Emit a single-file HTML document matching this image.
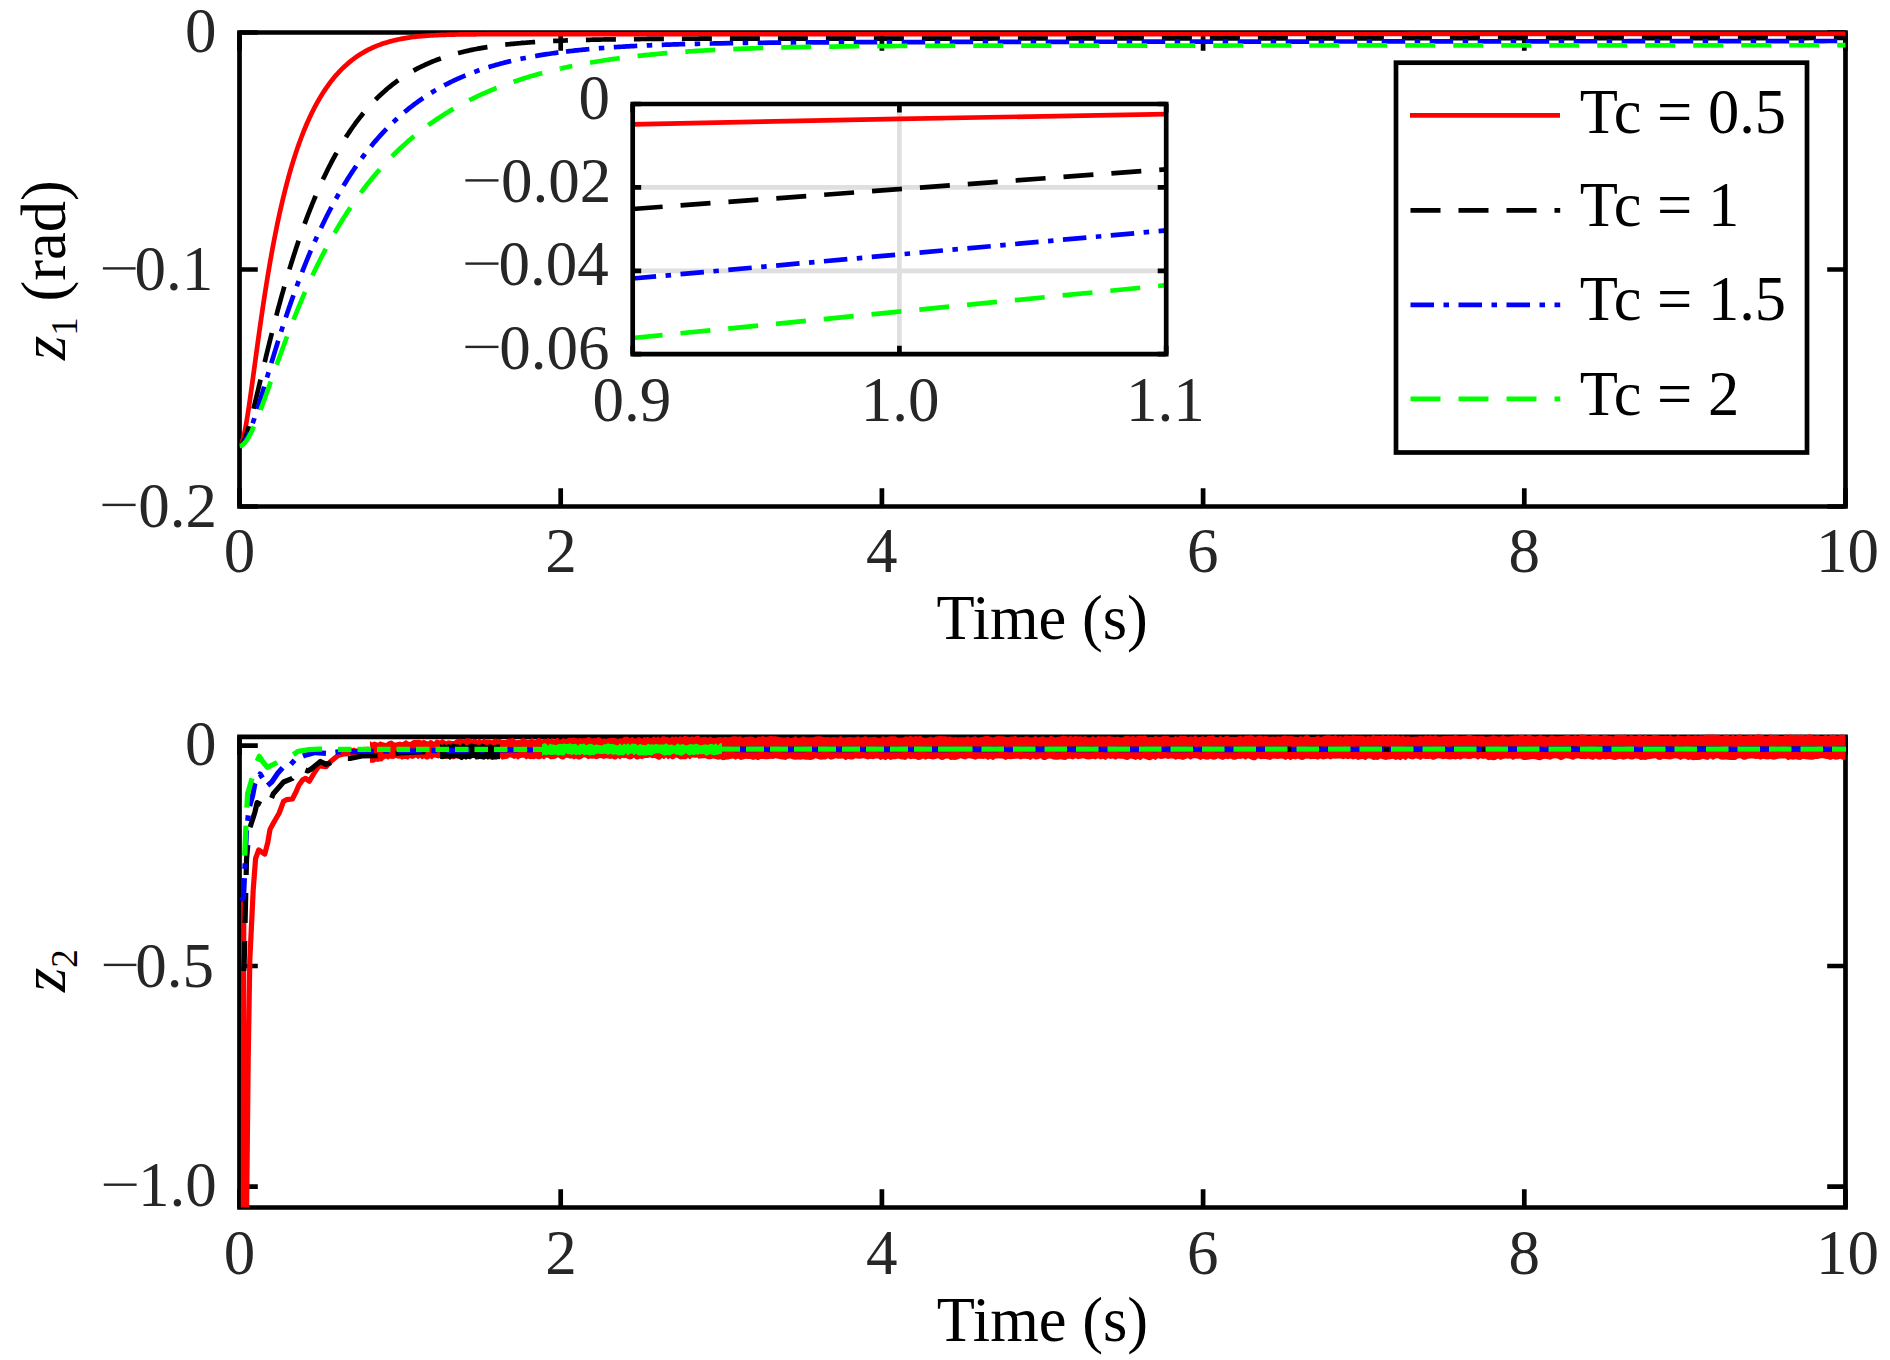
<!DOCTYPE html><html><head><meta charset="utf-8"><style>html,body{margin:0;padding:0;background:#fff;overflow:hidden}svg{display:block}</style></head><body><svg width="1890" height="1360" viewBox="0 0 1890 1360" font-family="Liberation Serif, serif"><rect width="1890" height="1360" fill="#fff"/><path d="M239.5 32.5H1845.5V506.5H239.5Z" fill="none" stroke="#000" stroke-width="4.7" stroke-linejoin="miter"/><path d="M239.5 506.5V488.2M239.5 32.5V50.8M560.7 506.5V488.2M560.7 32.5V50.8M881.9 506.5V488.2M881.9 32.5V50.8M1203.1 506.5V488.2M1203.1 32.5V50.8M1524.3 506.5V488.2M1524.3 32.5V50.8M1845.5 506.5V488.2M1845.5 32.5V50.8M239.5 32.5H257.8M1845.5 32.5H1827.2M239.5 269.5H257.8M1845.5 269.5H1827.2M239.5 506.5H257.8M1845.5 506.5H1827.2" stroke="#000" stroke-width="4.7"/><text x="223.75" y="572" font-size="63" fill="#262626">0</text><text x="545.3" y="572" font-size="63" fill="#262626">2</text><text x="866.03" y="572" font-size="63" fill="#262626">4</text><text x="1186.93" y="572" font-size="63" fill="#262626">6</text><text x="1508.55" y="572" font-size="63" fill="#262626">8</text><text x="1815.93" y="572" font-size="63" fill="#262626">10</text><text x="184.9" y="52" font-size="63" fill="#262626">0</text><text x="134.53" y="290" font-size="63" fill="#262626">0.1</text><rect x="102.9" y="267.2" width="32.7" height="2.4" fill="#262626"/><text x="138.23" y="526.5" font-size="63" fill="#262626">0.2</text><rect x="102.5" y="503.7" width="33.1" height="2.4" fill="#262626"/><text x="936.57" y="639" font-size="62.5" fill="#000">Time (s)</text><g transform="translate(65 360) rotate(-90)"><text x="0" y="0" font-size="62.5" fill="#000"><tspan font-style="italic">z</tspan><tspan font-size="37" dy="12">1</tspan><tspan dy="-12"> (rad)</tspan></text></g><clipPath id="c1"><rect x="239.5" y="29.5" width="1609" height="477"/></clipPath><g clip-path="url(#c1)" fill="none" stroke-width="4.7"><path d="M239.5 446 240.7 445.09 241.43 443.75 241.99 442.32 242.47 440.86 242.95 439.2 243.35 437.66 243.76 436 244.16 434.22 244.48 432.72 244.8 431.15 245.12 429.52 245.44 427.83 245.76 426.08 246.08 424.28 246.41 422.43 246.73 420.53 247.05 418.59 247.29 417.11 247.53 415.61 247.77 414.08 248.01 412.53 248.25 410.97 248.49 409.39 248.73 407.79 248.98 406.17 249.22 404.54 249.46 402.9 249.7 401.24 249.94 399.58 250.18 397.9 250.42 396.21 250.66 394.51 250.9 392.8 251.14 391.08 251.38 389.35 251.63 387.62 251.87 385.88 252.11 384.14 252.35 382.39 252.59 380.64 252.83 378.88 253.07 377.12 253.31 375.35 253.55 373.59 253.79 371.82 254.03 370.05 254.28 368.28 254.52 366.51 254.76 364.74 255 362.97 255.24 361.2 255.48 359.43 255.72 357.66 255.96 355.9 256.2 354.14 256.44 352.37 256.68 350.62 256.93 348.86 257.17 347.11 257.41 345.36 257.65 343.62 257.89 341.88 258.13 340.14 258.37 338.41 258.61 336.68 258.85 334.96 259.09 333.24 259.33 331.53 259.57 329.82 259.82 328.12 260.06 326.43 260.3 324.74 260.54 323.06 260.78 321.38 261.02 319.71 261.26 318.05 261.5 316.39 261.74 314.74 261.98 313.1 262.22 311.46 262.47 309.83 262.71 308.21 262.95 306.59 263.19 304.98 263.43 303.38 263.67 301.79 263.91 300.2 264.15 298.62 264.39 297.05 264.63 295.49 264.87 293.93 265.12 292.38 265.36 290.84 265.6 289.31 265.84 287.78 266.08 286.26 266.32 284.75 266.56 283.25 266.8 281.76 267.04 280.27 267.36 278.3 267.69 276.35 268.01 274.41 268.33 272.48 268.65 270.56 268.97 268.67 269.29 266.78 269.61 264.91 269.93 263.05 270.25 261.21 270.58 259.38 270.9 257.56 271.22 255.76 271.54 253.97 271.86 252.2 272.18 250.44 272.5 248.69 272.82 246.96 273.15 245.24 273.47 243.53 273.79 241.84 274.11 240.16 274.43 238.49 274.75 236.84 275.07 235.19 275.39 233.57 275.72 231.95 276.04 230.35 276.36 228.76 276.68 227.19 277 225.62 277.32 224.07 277.64 222.53 277.96 221.01 278.28 219.49 278.61 217.99 278.93 216.5 279.25 215.02 279.57 213.56 279.97 211.74 280.37 209.94 280.77 208.16 281.18 206.4 281.58 204.66 281.98 202.93 282.38 201.22 282.78 199.53 283.18 197.86 283.58 196.2 283.99 194.56 284.39 192.94 284.79 191.33 285.19 189.74 285.59 188.16 285.99 186.6 286.4 185.06 286.8 183.53 287.2 182.02 287.6 180.52 288 179.04 288.4 177.57 288.8 176.12 289.29 174.39 289.77 172.69 290.25 171.01 290.73 169.35 291.21 167.7 291.7 166.08 292.18 164.48 292.66 162.89 293.14 161.33 293.62 159.78 294.1 158.25 294.59 156.74 295.07 155.25 295.55 153.77 296.03 152.32 296.51 150.88 296.99 149.46 297.56 147.82 298.12 146.2 298.68 144.61 299.24 143.04 299.81 141.49 300.37 139.96 300.93 138.45 301.49 136.96 302.05 135.49 302.62 134.05 303.18 132.62 303.74 131.21 304.38 129.63 305.02 128.06 305.67 126.53 306.31 125.01 306.95 123.52 307.59 122.06 308.24 120.61 308.88 119.19 309.52 117.79 310.16 116.41 310.81 115.05 311.53 113.55 312.25 112.08 312.97 110.62 313.7 109.2 314.42 107.8 315.14 106.42 315.87 105.06 316.59 103.73 317.39 102.28 318.19 100.86 319 99.46 319.8 98.09 320.6 96.74 321.41 95.42 322.21 94.13 323.01 92.86 323.9 91.49 324.78 90.14 325.66 88.83 326.55 87.54 327.43 86.28 328.31 85.05 329.28 83.74 330.24 82.45 331.2 81.19 332.17 79.96 333.13 78.76 334.09 77.59 335.14 76.35 336.18 75.14 337.23 73.96 338.27 72.81 339.31 71.69 340.36 70.59 341.48 69.44 342.61 68.33 343.73 67.24 344.85 66.18 345.98 65.15 347.1 64.15 348.31 63.11 349.51 62.1 350.72 61.12 351.92 60.16 353.12 59.24 354.33 58.34 355.61 57.42 356.9 56.52 358.18 55.65 359.47 54.81 360.75 54 362.04 53.21 363.4 52.41 364.77 51.63 366.13 50.88 367.5 50.16 368.86 49.46 370.23 48.79 371.59 48.14 372.96 47.51 374.4 46.88 375.85 46.27 377.29 45.68 378.74 45.12 380.19 44.58 381.63 44.06 383.08 43.57 384.52 43.09 385.97 42.64 387.41 42.2 388.86 41.79 390.38 41.37 391.91 40.97 393.44 40.58 394.96 40.22 396.49 39.87 398.01 39.54 399.54 39.23 401.06 38.93 402.59 38.65 404.11 38.38 405.64 38.12 407.17 37.88 408.69 37.65 410.22 37.43 411.74 37.23 413.27 37.03 414.79 36.85 416.32 36.67 417.85 36.51 419.37 36.35 420.9 36.21 422.42 36.07 423.95 35.94 425.47 35.82 427 35.7 428.53 35.59 430.05 35.49 431.58 35.4 433.1 35.31 434.63 35.23 436.15 35.15 437.68 35.08 439.21 35.01 440.73 34.95 442.26 34.89 443.78 34.83 445.31 34.78 446.83 34.73 448.36 34.69 449.89 34.65 451.41 34.61 452.94 34.57 454.46 34.54 455.99 34.51 457.51 34.48 459.04 34.46 460.57 34.43 462.09 34.41 463.62 34.39 465.14 34.37 466.67 34.35 468.19 34.34 469.72 34.32 471.25 34.31 472.77 34.3 474.3 34.29 475.82 34.28 477.35 34.27 478.87 34.26 480.4 34.25 481.93 34.24 483.45 34.24 484.98 34.23 486.5 34.23 488.03 34.22 489.55 34.22 491.08 34.21 492.61 34.21 494.13 34.21 495.66 34.21 497.18 34.2 498.71 34.2 500.23 34.2 501.76 34.2 503.29 34.2 504.81 34.19 506.34 34.19 507.86 34.19 509.39 34.19 510.91 34.19 512.44 34.19 513.97 34.19 515.49 34.19 517.02 34.19 518.54 34.19 520.07 34.19 521.59 34.19 523.12 34.19 524.65 34.18 526.17 34.18 527.7 34.18 529.22 34.18 530.75 34.18 532.27 34.18 533.8 34.18 535.33 34.18 536.85 34.18 538.38 34.18 539.9 34.18 541.43 34.18 542.95 34.18 544.48 34.18 546.01 34.18 547.53 34.18 549.06 34.18 550.58 34.18 552.11 34.18 553.63 34.18 555.16 34.18 556.68 34.18 558.21 34.18 559.74 34.18 561.26 34.18 562.79 34.18 564.31 34.18 565.84 34.18 567.36 34.18 568.89 34.18 570.42 34.18 571.94 34.18 573.47 34.18 574.99 34.18 576.52 34.18 578.04 34.18 579.57 34.18 581.1 34.18 582.62 34.18 584.15 34.18 585.67 34.18 587.2 34.18 588.72 34.18 590.25 34.18 591.78 34.18 593.3 34.18 594.83 34.18 596.35 34.18 597.88 34.18 599.4 34.18 600.93 34.18 602.46 34.18 603.98 34.18 605.51 34.18 607.03 34.18 608.56 34.18 610.08 34.18 611.61 34.18 613.14 34.18 614.66 34.18 616.19 34.18 617.71 34.18 619.24 34.18 620.76 34.18 622.29 34.18 623.82 34.18 625.34 34.18 626.87 34.18 628.39 34.18 629.92 34.18 631.44 34.18 632.97 34.18 634.5 34.18 636.02 34.18 637.55 34.18 639.07 34.18 640.6 34.18 642.12 34.18 643.65 34.18 645.18 34.18 646.7 34.18 648.23 34.18 649.75 34.18 651.28 34.18 652.8 34.18 654.33 34.18 655.86 34.18 657.38 34.18 658.91 34.18 660.43 34.18 661.96 34.18 663.48 34.18 665.01 34.18 666.54 34.18 668.06 34.18 669.59 34.18 671.11 34.18 672.64 34.18 674.16 34.18 675.69 34.18 677.22 34.18 678.74 34.18 680.27 34.18 681.79 34.18 683.32 34.18 684.84 34.18 686.37 34.18 687.9 34.18 689.42 34.18 690.95 34.18 692.47 34.18 694 34.18 695.52 34.18 697.05 34.18 698.58 34.18 700.1 34.18 701.63 34.18 703.15 34.18 704.68 34.18 706.2 34.18 707.73 34.18 709.26 34.18 710.78 34.18 712.31 34.18 713.83 34.18 715.36 34.18 716.88 34.18 718.41 34.18 719.93 34.18 729.33 34.18 737.36 34.18 745.39 34.18 753.42 34.18 761.45 34.18 769.48 34.18 777.51 34.18 785.54 34.18 793.57 34.18 801.6 34.18 809.63 34.18 817.66 34.18 825.69 34.18 833.72 34.18 841.75 34.18 849.78 34.18 857.81 34.18 865.84 34.18 873.87 34.18 881.9 34.18 889.93 34.18 897.96 34.18 905.99 34.17 914.02 34.17 922.05 34.17 930.08 34.16 938.11 34.16 946.14 34.16 954.17 34.15 962.2 34.15 970.23 34.15 978.26 34.14 986.29 34.14 994.32 34.14 1002.35 34.13 1010.38 34.13 1018.41 34.13 1026.44 34.13 1034.47 34.12 1042.5 34.12 1050.53 34.12 1058.56 34.11 1066.59 34.11 1074.62 34.11 1082.65 34.1 1090.68 34.1 1098.71 34.1 1106.74 34.09 1114.77 34.09 1122.8 34.09 1130.83 34.08 1138.86 34.08 1146.89 34.08 1154.92 34.07 1162.95 34.07 1170.98 34.07 1179.01 34.06 1187.04 34.06 1195.07 34.06 1203.1 34.06 1211.13 34.05 1219.16 34.05 1227.19 34.05 1235.22 34.04 1243.25 34.04 1251.28 34.04 1259.31 34.03 1267.34 34.03 1275.37 34.03 1283.4 34.02 1291.43 34.02 1299.46 34.02 1307.49 34.01 1315.52 34.01 1323.55 34.01 1331.58 34 1339.61 34 1347.64 34 1355.67 33.99 1363.7 33.99 1371.73 33.99 1379.76 33.98 1387.79 33.98 1395.82 33.98 1403.85 33.98 1411.88 33.97 1419.91 33.97 1427.94 33.97 1435.97 33.96 1444 33.96 1452.03 33.96 1460.06 33.95 1468.09 33.95 1476.12 33.95 1484.15 33.94 1492.18 33.94 1500.21 33.94 1508.24 33.93 1516.27 33.93 1524.3 33.93 1532.33 33.92 1540.36 33.92 1548.39 33.92 1556.42 33.91 1564.45 33.91 1572.48 33.91 1580.51 33.91 1588.54 33.9 1596.57 33.9 1604.6 33.9 1612.63 33.89 1620.66 33.89 1628.69 33.89 1636.72 33.88 1644.75 33.88 1652.78 33.88 1660.81 33.87 1668.84 33.87 1676.87 33.87 1684.9 33.86 1692.93 33.86 1700.96 33.86 1708.99 33.85 1717.02 33.85 1725.05 33.85 1733.08 33.84 1741.11 33.84 1749.14 33.84 1757.17 33.84 1765.2 33.83 1773.23 33.83 1781.26 33.83 1789.29 33.82 1797.32 33.82 1805.35 33.82 1813.38 33.81 1821.41 33.81 1829.44 33.81 1837.47 33.8 1845.5 33.8" stroke="#f00"/><path d="M239.5 446 240.95 445.36 241.99 444.19 242.87 442.79 243.6 441.4 244.24 439.99 244.88 438.45 245.44 436.99 246 435.44 246.57 433.8 247.05 432.33 247.53 430.81 248.01 429.24 248.49 427.63 248.98 425.97 249.46 424.28 249.94 422.55 250.34 421.08 250.74 419.59 251.14 418.08 251.55 416.55 251.95 415 252.35 413.44 252.75 411.86 253.15 410.27 253.55 408.67 253.95 407.05 254.36 405.43 254.76 403.79 255.16 402.15 255.56 400.5 255.96 398.84 256.36 397.18 256.76 395.51 257.17 393.83 257.57 392.15 257.97 390.47 258.37 388.78 258.77 387.1 259.17 385.41 259.57 383.72 259.98 382.02 260.38 380.33 260.78 378.64 261.18 376.95 261.58 375.25 261.98 373.56 262.39 371.87 262.79 370.19 263.19 368.5 263.59 366.82 263.99 365.14 264.39 363.46 264.79 361.79 265.2 360.11 265.6 358.45 266 356.78 266.4 355.12 266.8 353.47 267.2 351.81 267.61 350.17 268.01 348.52 268.41 346.89 268.81 345.25 269.21 343.62 269.61 342 270.01 340.38 270.42 338.77 270.82 337.16 271.22 335.56 271.62 333.96 272.02 332.37 272.42 330.79 272.82 329.21 273.23 327.63 273.63 326.06 274.03 324.5 274.43 322.95 274.83 321.4 275.23 319.85 275.64 318.32 276.04 316.78 276.44 315.26 276.84 313.74 277.24 312.23 277.64 310.72 278.04 309.22 278.45 307.73 278.85 306.24 279.25 304.76 279.65 303.28 280.05 301.81 280.45 300.35 280.85 298.89 281.26 297.45 281.74 295.71 282.22 293.99 282.7 292.28 283.18 290.58 283.67 288.88 284.15 287.2 284.63 285.52 285.11 283.86 285.59 282.2 286.07 280.55 286.56 278.91 287.04 277.28 287.52 275.66 288 274.05 288.48 272.45 288.96 270.85 289.45 269.27 289.93 267.69 290.41 266.13 290.89 264.57 291.37 263.02 291.86 261.48 292.34 259.95 292.82 258.43 293.3 256.92 293.78 255.41 294.26 253.92 294.75 252.43 295.23 250.95 295.71 249.48 296.19 248.02 296.67 246.57 297.16 245.13 297.64 243.69 298.12 242.27 298.68 240.61 299.24 238.97 299.81 237.34 300.37 235.72 300.93 234.11 301.49 232.52 302.05 230.93 302.62 229.36 303.18 227.8 303.74 226.24 304.3 224.7 304.86 223.17 305.43 221.65 305.99 220.15 306.55 218.65 307.11 217.16 307.67 215.69 308.24 214.22 308.8 212.76 309.36 211.32 309.92 209.89 310.49 208.46 311.05 207.05 311.61 205.65 312.17 204.25 312.81 202.67 313.46 201.11 314.1 199.55 314.74 198.01 315.38 196.49 316.03 194.97 316.67 193.47 317.31 191.98 317.95 190.5 318.6 189.04 319.24 187.59 319.88 186.15 320.52 184.72 321.17 183.31 321.81 181.9 322.45 180.51 323.09 179.13 323.73 177.77 324.38 176.41 325.1 174.9 325.82 173.4 326.55 171.92 327.27 170.45 327.99 169 328.71 167.56 329.44 166.14 330.16 164.73 330.88 163.33 331.6 161.95 332.33 160.58 333.05 159.22 333.77 157.88 334.49 156.55 335.22 155.23 336.02 153.79 336.82 152.35 337.63 150.94 338.43 149.54 339.23 148.16 340.04 146.79 340.84 145.43 341.64 144.1 342.44 142.77 343.25 141.47 344.05 140.17 344.85 138.89 345.74 137.5 346.62 136.13 347.5 134.78 348.39 133.44 349.27 132.11 350.15 130.81 351.04 129.52 351.92 128.25 352.8 126.99 353.69 125.75 354.57 124.53 355.53 123.21 356.5 121.91 357.46 120.63 358.42 119.36 359.39 118.12 360.35 116.89 361.32 115.68 362.28 114.48 363.24 113.3 364.21 112.14 365.25 110.9 366.29 109.68 367.34 108.48 368.38 107.3 369.43 106.13 370.47 104.99 371.51 103.86 372.56 102.74 373.6 101.65 374.73 100.49 375.85 99.35 376.97 98.23 378.1 97.13 379.22 96.05 380.35 94.98 381.47 93.94 382.59 92.91 383.72 91.9 384.84 90.9 386.05 89.86 387.25 88.83 388.46 87.82 389.66 86.83 390.87 85.86 392.07 84.91 393.27 83.98 394.48 83.06 395.68 82.16 396.97 81.22 398.25 80.3 399.54 79.39 400.82 78.51 402.11 77.64 403.39 76.79 404.68 75.95 405.96 75.14 407.25 74.34 408.53 73.55 409.9 72.74 411.26 71.94 412.63 71.16 413.99 70.4 415.36 69.65 416.72 68.92 418.09 68.21 419.45 67.51 420.82 66.83 422.18 66.16 423.55 65.51 424.91 64.87 426.28 64.25 427.72 63.6 429.17 62.97 430.61 62.36 432.06 61.76 433.5 61.17 434.95 60.6 436.4 60.04 437.84 59.49 439.29 58.96 440.73 58.44 442.18 57.93 443.62 57.44 445.07 56.96 446.51 56.48 447.96 56.03 449.4 55.58 450.85 55.14 452.29 54.71 453.74 54.3 455.19 53.89 456.71 53.47 458.24 53.06 459.76 52.67 461.29 52.28 462.81 51.91 464.34 51.54 465.87 51.18 467.39 50.84 468.92 50.5 470.44 50.17 471.97 49.85 473.49 49.54 475.02 49.23 476.55 48.94 478.07 48.65 479.6 48.37 481.12 48.1 482.65 47.83 484.17 47.57 485.7 47.32 487.23 47.08 488.75 46.84 490.28 46.61 491.8 46.38 493.33 46.16 494.85 45.95 496.38 45.74 497.91 45.54 499.43 45.34 500.96 45.15 502.48 44.96 504.01 44.78 505.53 44.61 507.06 44.44 508.59 44.27 510.11 44.11 511.64 43.95 513.16 43.8 514.69 43.65 516.21 43.5 517.74 43.36 519.27 43.23 520.79 43.09 522.32 42.96 523.84 42.84 525.37 42.72 526.89 42.6 528.42 42.48 529.95 42.37 531.47 42.26 533 42.15 534.52 42.05 536.05 41.95 537.57 41.85 539.1 41.76 540.62 41.67 542.15 41.58 543.68 41.49 545.2 41.41 546.73 41.33 548.25 41.25 549.78 41.17 551.3 41.09 552.83 41.02 554.36 40.95 555.88 40.88 557.41 40.81 558.93 40.75 560.46 40.68" stroke="#000" stroke-dasharray="30 18" stroke-dashoffset="7.5"/><path d="M560.46 40.68 561.98 40.62 563.51 40.56 565.04 40.51 566.56 40.45 568.09 40.39 569.61 40.34 571.14 40.29 572.66 40.24 574.19 40.19 575.72 40.14 577.24 40.1 578.77 40.05 580.29 40.01 581.82 39.97 583.34 39.93 584.87 39.89 586.4 39.85 587.92 39.81 589.45 39.78 590.97 39.74 592.5 39.71 594.02 39.67 595.55 39.64 597.08 39.61 598.6 39.58 600.13 39.55 601.65 39.52 603.18 39.49 604.7 39.47 606.23 39.44 607.76 39.42 609.28 39.39 610.81 39.37 612.33 39.34 613.86 39.32 615.38 39.3 616.91 39.28 618.44 39.26 619.96 39.24 621.49 39.22 623.01 39.2 624.54 39.18 626.06 39.16 627.59 39.15 629.12 39.13 630.64 39.11 632.17 39.1 633.69 39.08 635.22 39.07 636.74 39.05 638.27 39.04 639.8 39.03 641.32 39.01 642.85 39 644.37 38.99 645.9 38.98 647.42 38.97 648.95 38.95 650.48 38.94 652 38.93 653.53 38.92 655.05 38.91 656.58 38.9 658.1 38.89 659.63 38.88 661.16 38.88 662.68 38.87 664.21 38.86 665.73 38.85 667.26 38.84 668.78 38.84 670.31 38.83 671.84 38.82 673.36 38.81 674.89 38.81 676.41 38.8 677.94 38.79 679.46 38.79 680.99 38.78 682.52 38.78 684.04 38.77 685.57 38.77 687.09 38.76 688.62 38.76 690.14 38.75 691.67 38.75 693.2 38.74 694.72 38.74 696.25 38.73 697.77 38.73 699.3 38.72 700.82 38.72 702.35 38.72 703.87 38.71 705.4 38.71 706.93 38.71 708.45 38.7 709.98 38.7 711.5 38.7 713.03 38.69 714.55 38.69 716.08 38.69 717.61 38.68 719.13 38.68 720.66 38.68 729.33 38.66 737.36 38.65 745.39 38.64 753.42 38.64 761.45 38.63 769.48 38.62 777.51 38.62 785.54 38.62 793.57 38.61 801.6 38.61 809.63 38.61 817.66 38.6 825.69 38.6 833.72 38.6 841.75 38.6 849.78 38.6 857.81 38.6 865.84 38.6 873.87 38.6 881.9 38.59 889.93 38.59 897.96 38.58 905.99 38.58 914.02 38.57 922.05 38.57 930.08 38.56 938.11 38.56 946.14 38.55 954.17 38.55 962.2 38.54 970.23 38.54 978.26 38.53 986.29 38.53 994.32 38.52 1002.35 38.52 1010.38 38.51 1018.41 38.51 1026.44 38.5 1034.47 38.5 1042.5 38.49 1050.53 38.49 1058.56 38.48 1066.59 38.48 1074.62 38.47 1082.65 38.47 1090.68 38.46 1098.71 38.46 1106.74 38.45 1114.77 38.45 1122.8 38.44 1130.83 38.44 1138.86 38.43 1146.89 38.43 1154.92 38.42 1162.95 38.42 1170.98 38.41 1179.01 38.41 1187.04 38.4 1195.07 38.4 1203.1 38.39 1211.13 38.39 1219.16 38.38 1227.19 38.38 1235.22 38.37 1243.25 38.37 1251.28 38.36 1259.31 38.36 1267.34 38.35 1275.37 38.35 1283.4 38.34 1291.43 38.34 1299.46 38.33 1307.49 38.33 1315.52 38.32 1323.55 38.32 1331.58 38.31 1339.61 38.31 1347.64 38.3 1355.67 38.3 1363.7 38.29 1371.73 38.29 1379.76 38.28 1387.79 38.28 1395.82 38.27 1403.85 38.27 1411.88 38.26 1419.91 38.26 1427.94 38.25 1435.97 38.25 1444 38.24 1452.03 38.24 1460.06 38.23 1468.09 38.23 1476.12 38.22 1484.15 38.22 1492.18 38.21 1500.21 38.21 1508.24 38.2 1516.27 38.2 1524.3 38.19 1532.33 38.19 1540.36 38.18 1548.39 38.18 1556.42 38.17 1564.45 38.17 1572.48 38.16 1580.51 38.16 1588.54 38.15 1596.57 38.15 1604.6 38.14 1612.63 38.14 1620.66 38.13 1628.69 38.13 1636.72 38.13 1644.75 38.12 1652.78 38.12 1660.81 38.11 1668.84 38.11 1676.87 38.1 1684.9 38.1 1692.93 38.09 1700.96 38.09 1708.99 38.08 1717.02 38.08 1725.05 38.07 1733.08 38.07 1741.11 38.06 1749.14 38.06 1757.17 38.05 1765.2 38.05 1773.23 38.04 1781.26 38.04 1789.29 38.03 1797.32 38.03 1805.35 38.03 1813.38 38.02 1821.41 38.02 1829.44 38.02 1837.47 38.02 1845.5 38.02" stroke="#000" stroke-dasharray="30 18" stroke-dashoffset="22.54"/><path d="M239.5 446 241.03 445.57 242.31 444.61 243.35 443.46 244.32 442.14 245.12 440.86 245.92 439.45 246.65 438.06 247.37 436.57 248.01 435.16 248.65 433.7 249.3 432.16 249.94 430.57 250.5 429.13 251.06 427.66 251.63 426.15 252.19 424.6 252.75 423.02 253.31 421.42 253.87 419.78 254.36 418.36 254.84 416.92 255.32 415.47 255.8 414 256.28 412.51 256.76 411.01 257.25 409.5 257.73 407.98 258.21 406.45 258.69 404.91 259.17 403.36 259.66 401.81 260.14 400.24 260.62 398.67 261.1 397.09 261.58 395.51 262.06 393.93 262.55 392.34 263.03 390.74 263.51 389.14 263.99 387.54 264.47 385.94 264.96 384.34 265.44 382.74 265.92 381.13 266.4 379.52 266.88 377.92 267.36 376.31 267.85 374.71 268.33 373.11 268.81 371.51 269.29 369.91 269.77 368.31 270.25 366.71 270.74 365.12 271.22 363.53 271.7 361.94 272.18 360.35 272.66 358.77 273.15 357.19 273.63 355.62 274.11 354.05 274.59 352.48 275.07 350.92 275.55 349.36 276.04 347.81 276.52 346.26 277 344.71 277.48 343.17 277.96 341.64 278.45 340.11 278.93 338.58 279.41 337.06 279.89 335.55 280.37 334.04 280.85 332.53 281.34 331.03 281.82 329.54 282.3 328.05 282.78 326.57 283.26 325.1 283.75 323.63 284.23 322.16 284.71 320.7 285.19 319.25 285.67 317.8 286.15 316.36 286.64 314.93 287.12 313.5 287.6 312.07 288.16 310.42 288.72 308.78 289.29 307.14 289.85 305.51 290.41 303.89 290.97 302.28 291.53 300.68 292.1 299.09 292.66 297.5 293.22 295.92 293.78 294.35 294.34 292.79 294.91 291.24 295.47 289.69 296.03 288.16 296.59 286.63 297.16 285.11 297.72 283.6 298.28 282.1 298.84 280.6 299.4 279.12 299.97 277.64 300.53 276.17 301.09 274.71 301.65 273.25 302.21 271.81 302.78 270.37 303.34 268.94 303.9 267.52 304.46 266.11 305.02 264.7 305.59 263.3 306.23 261.72 306.87 260.14 307.51 258.57 308.16 257.02 308.8 255.47 309.44 253.94 310.08 252.41 310.73 250.9 311.37 249.39 312.01 247.89 312.65 246.41 313.3 244.93 313.94 243.47 314.58 242.01 315.22 240.56 315.87 239.13 316.51 237.7 317.15 236.28 317.79 234.88 318.43 233.48 319.08 232.09 319.72 230.71 320.36 229.34 321 227.98 321.73 226.46 322.45 224.95 323.17 223.45 323.9 221.96 324.62 220.49 325.34 219.02 326.06 217.57 326.79 216.13 327.51 214.7 328.23 213.28 328.95 211.87 329.68 210.48 330.4 209.09 331.12 207.71 331.84 206.35 332.57 204.99 333.29 203.65 334.01 202.32 334.74 200.99 335.54 199.53 336.34 198.09 337.14 196.65 337.95 195.23 338.75 193.82 339.55 192.43 340.36 191.04 341.16 189.67 341.96 188.31 342.77 186.96 343.57 185.62 344.37 184.3 345.17 182.98 345.98 181.68 346.78 180.39 347.58 179.11 348.39 177.84 349.27 176.45 350.15 175.08 351.04 173.73 351.92 172.38 352.8 171.05 353.69 169.74 354.57 168.43 355.45 167.14 356.34 165.86 357.22 164.59 358.1 163.33 358.99 162.09 359.87 160.86 360.75 159.64 361.72 158.32 362.68 157.02 363.64 155.73 364.61 154.46 365.57 153.2 366.53 151.95 367.5 150.71 368.46 149.49 369.43 148.28 370.39 147.09 371.35 145.9 372.32 144.73 373.28 143.58 374.32 142.34 375.37 141.11 376.41 139.9 377.46 138.7 378.5 137.52 379.54 136.35 380.59 135.19 381.63 134.05 382.67 132.92 383.72 131.8 384.76 130.7 385.81 129.61 386.85 128.53 387.97 127.39 389.1 126.25 390.22 125.14 391.35 124.03 392.47 122.94 393.6 121.87 394.72 120.81 395.84 119.76 396.97 118.72 398.09 117.7 399.22 116.69 400.34 115.7 401.55 114.64 402.75 113.61 403.95 112.58 405.16 111.57 406.36 110.57 407.57 109.59 408.77 108.62 409.98 107.67 411.18 106.72 412.39 105.79 413.59 104.88 414.79 103.97 416.08 103.02 417.36 102.09 418.65 101.16 419.93 100.25 421.22 99.36 422.5 98.47 423.79 97.61 425.07 96.75 426.36 95.9 427.64 95.07 428.93 94.25 430.21 93.45 431.5 92.65 432.78 91.87 434.15 91.05 435.51 90.24 436.88 89.45 438.24 88.67 439.61 87.9 440.97 87.15 442.34 86.4 443.7 85.67 445.07 84.95 446.43 84.24 447.8 83.54 449.16 82.86 450.53 82.18 451.89 81.51 453.26 80.86 454.62 80.22 455.99 79.58 457.35 78.96 458.8 78.31 460.24 77.67 461.69 77.05 463.14 76.43 464.58 75.82 466.03 75.23 467.47 74.64 468.92 74.07 470.36 73.5 471.81 72.95 473.25 72.4 474.7 71.86 476.14 71.34 477.59 70.82 479.03 70.31 480.48 69.81 481.93 69.32 483.37 68.83 484.82 68.36 486.26 67.89 487.71 67.43 489.15 66.98 490.6 66.54 492.04 66.1 493.49 65.67 494.93 65.25 496.38 64.84 497.83 64.43 499.35 64.01 500.88 63.6 502.4 63.19 503.93 62.79 505.45 62.4 506.98 62.02 508.5 61.64 510.03 61.27 511.56 60.91 513.08 60.55 514.61 60.2 516.13 59.86 517.66 59.52 519.18 59.19 520.71 58.87 522.24 58.55 523.76 58.24 525.29 57.93 526.81 57.63 528.34 57.33 529.86 57.04 531.39 56.76 532.92 56.48 534.44 56.21 535.97 55.94 537.49 55.67 539.02 55.41 540.54 55.16 542.07 54.91 543.6 54.67 545.12 54.43 546.65 54.19 548.17 53.96 549.7 53.73 551.22 53.51 552.75 53.29 554.28 53.07 555.8 52.86 557.33 52.66 558.85 52.45 560.38 52.26" stroke="#00f" stroke-dasharray="23.5 9.5 5.5 9.5" stroke-dashoffset="6"/><path d="M560.38 52.26 561.9 52.06 563.43 51.87 564.96 51.68 566.48 51.5 568.01 51.32 569.53 51.14 571.06 50.96 572.58 50.79 574.11 50.63 575.64 50.46 577.16 50.3 578.69 50.14 580.21 49.99 581.74 49.83 583.26 49.68 584.79 49.54 586.32 49.39 587.84 49.25 589.37 49.11 590.89 48.98 592.42 48.84 593.94 48.71 595.47 48.58 597 48.46 598.52 48.34 600.05 48.21 601.57 48.1 603.1 47.98 604.62 47.86 606.15 47.75 607.68 47.64 609.2 47.53 610.73 47.43 612.25 47.32 613.78 47.22 615.3 47.12 616.83 47.02 618.36 46.93 619.88 46.83 621.41 46.74 622.93 46.65 624.46 46.56 625.98 46.47 627.51 46.39 629.04 46.3 630.56 46.22 632.09 46.14 633.61 46.06 635.14 45.98 636.66 45.91 638.19 45.83 639.72 45.76 641.24 45.68 642.77 45.61 644.29 45.54 645.82 45.48 647.34 45.41 648.87 45.34 650.4 45.28 651.92 45.22 653.45 45.15 654.97 45.09 656.5 45.03 658.02 44.98 659.55 44.92 661.08 44.86 662.6 44.81 664.13 44.75 665.65 44.7 667.18 44.65 668.7 44.6 670.23 44.55 671.75 44.5 673.28 44.45 674.81 44.4 676.33 44.36 677.86 44.31 679.38 44.27 680.91 44.22 682.43 44.18 683.96 44.14 685.49 44.1 687.01 44.06 688.54 44.02 690.06 43.98 691.59 43.94 693.11 43.9 694.64 43.87 696.17 43.83 697.69 43.8 699.22 43.76 700.74 43.73 702.27 43.69 703.79 43.66 705.32 43.63 706.85 43.6 708.37 43.57 709.9 43.54 711.42 43.51 712.95 43.48 714.47 43.45 716 43.42 717.53 43.39 719.05 43.37 720.58 43.34 729.33 43.2 737.36 43.08 745.39 42.97 753.42 42.88 761.45 42.79 769.48 42.71 777.51 42.64 785.54 42.58 793.57 42.52 801.6 42.47 809.63 42.42 817.66 42.38 825.69 42.34 833.72 42.31 841.75 42.27 849.78 42.25 857.81 42.22 865.84 42.2 873.87 42.17 881.9 42.16 889.93 42.13 897.96 42.11 905.99 42.08 914.02 42.06 922.05 42.04 930.08 42.02 938.11 42.01 946.14 41.99 954.17 41.97 962.2 41.96 970.23 41.94 978.26 41.93 986.29 41.92 994.32 41.9 1002.35 41.89 1010.38 41.88 1018.41 41.87 1026.44 41.85 1034.47 41.84 1042.5 41.83 1050.53 41.82 1058.56 41.81 1066.59 41.8 1074.62 41.79 1082.65 41.78 1090.68 41.77 1098.71 41.76 1106.74 41.75 1114.77 41.74 1122.8 41.73 1130.83 41.73 1138.86 41.72 1146.89 41.71 1154.92 41.7 1162.95 41.69 1170.98 41.68 1179.01 41.67 1187.04 41.66 1195.07 41.66 1203.1 41.65 1211.13 41.64 1219.16 41.63 1227.19 41.62 1235.22 41.61 1243.25 41.6 1251.28 41.6 1259.31 41.59 1267.34 41.58 1275.37 41.57 1283.4 41.56 1291.43 41.56 1299.46 41.55 1307.49 41.54 1315.52 41.53 1323.55 41.52 1331.58 41.51 1339.61 41.51 1347.64 41.5 1355.67 41.49 1363.7 41.48 1371.73 41.47 1379.76 41.47 1387.79 41.46 1395.82 41.45 1403.85 41.44 1411.88 41.43 1419.91 41.43 1427.94 41.42 1435.97 41.41 1444 41.4 1452.03 41.39 1460.06 41.39 1468.09 41.38 1476.12 41.37 1484.15 41.36 1492.18 41.35 1500.21 41.35 1508.24 41.34 1516.27 41.33 1524.3 41.32 1532.33 41.31 1540.36 41.31 1548.39 41.3 1556.42 41.29 1564.45 41.28 1572.48 41.27 1580.51 41.27 1588.54 41.26 1596.57 41.25 1604.6 41.24 1612.63 41.23 1620.66 41.23 1628.69 41.22 1636.72 41.21 1644.75 41.2 1652.78 41.19 1660.81 41.19 1668.84 41.18 1676.87 41.17 1684.9 41.16 1692.93 41.16 1700.96 41.15 1708.99 41.14 1717.02 41.13 1725.05 41.12 1733.08 41.12 1741.11 41.11 1749.14 41.1 1757.17 41.09 1765.2 41.09 1773.23 41.08 1781.26 41.07 1789.29 41.06 1797.32 41.05 1805.35 41.05 1813.38 41.04 1821.41 41.03 1829.44 41.02 1837.47 41.02 1845.5 41.01" stroke="#00f" stroke-dasharray="23.5 9.5 5.5 9.5" stroke-dashoffset="42.35"/><path d="M239.5 446 241.03 445.71 242.39 444.99 243.6 444.02 244.72 442.86 245.68 441.68 246.65 440.36 247.53 439.02 248.33 437.7 249.14 436.3 249.86 434.96 250.58 433.57 251.3 432.12 252.03 430.62 252.67 429.24 253.31 427.82 253.95 426.37 254.6 424.89 255.24 423.38 255.88 421.83 256.52 420.26 257.09 418.87 257.65 417.46 258.21 416.03 258.77 414.58 259.33 413.12 259.9 411.65 260.46 410.16 261.02 408.66 261.58 407.16 262.14 405.64 262.71 404.11 263.27 402.57 263.83 401.03 264.39 399.47 264.96 397.91 265.52 396.35 266.08 394.78 266.64 393.21 267.2 391.63 267.77 390.05 268.33 388.46 268.89 386.88 269.45 385.29 270.01 383.7 270.58 382.11 271.14 380.52 271.7 378.93 272.26 377.34 272.82 375.75 273.39 374.16 273.95 372.57 274.51 370.98 275.07 369.4 275.64 367.82 276.2 366.24 276.76 364.66 277.32 363.09 277.88 361.51 278.45 359.95 279.01 358.38 279.57 356.82 280.13 355.27 280.69 353.72 281.26 352.17 281.82 350.63 282.38 349.09 282.94 347.55 283.5 346.03 284.07 344.5 284.63 342.98 285.19 341.47 285.75 339.97 286.31 338.46 286.88 336.97 287.44 335.48 288 333.99 288.56 332.51 289.13 331.04 289.69 329.58 290.25 328.12 290.81 326.66 291.37 325.21 291.94 323.77 292.5 322.34 293.06 320.91 293.62 319.48 294.18 318.07 294.75 316.66 295.31 315.25 295.87 313.86 296.51 312.27 297.16 310.69 297.8 309.12 298.44 307.55 299.08 306 299.73 304.45 300.37 302.92 301.01 301.39 301.65 299.87 302.29 298.36 302.94 296.85 303.58 295.36 304.22 293.87 304.86 292.4 305.51 290.93 306.15 289.47 306.79 288.02 307.43 286.58 308.08 285.14 308.72 283.72 309.36 282.3 310 280.89 310.65 279.49 311.29 278.1 311.93 276.71 312.57 275.34 313.22 273.97 313.86 272.61 314.58 271.09 315.3 269.58 316.03 268.08 316.75 266.6 317.47 265.12 318.19 263.65 318.92 262.19 319.64 260.74 320.36 259.31 321.08 257.88 321.81 256.46 322.53 255.05 323.25 253.65 323.98 252.26 324.7 250.88 325.42 249.51 326.14 248.15 326.87 246.8 327.59 245.46 328.31 244.13 329.03 242.8 329.76 241.49 330.56 240.04 331.36 238.6 332.17 237.17 332.97 235.75 333.77 234.35 334.58 232.95 335.38 231.57 336.18 230.2 336.98 228.83 337.79 227.48 338.59 226.14 339.39 224.81 340.2 223.48 341 222.17 341.8 220.87 342.61 219.58 343.41 218.3 344.21 217.02 345.09 215.64 345.98 214.26 346.86 212.9 347.74 211.54 348.63 210.2 349.51 208.87 350.39 207.55 351.28 206.24 352.16 204.94 353.04 203.66 353.93 202.38 354.81 201.12 355.69 199.86 356.58 198.62 357.46 197.38 358.34 196.16 359.23 194.95 360.19 193.63 361.15 192.33 362.12 191.04 363.08 189.77 364.05 188.5 365.01 187.25 365.97 186.01 366.94 184.77 367.9 183.55 368.86 182.34 369.83 181.15 370.79 179.96 371.75 178.78 372.72 177.61 373.68 176.46 374.73 175.22 375.77 173.99 376.81 172.77 377.86 171.57 378.9 170.37 379.94 169.19 380.99 168.02 382.03 166.86 383.08 165.71 384.12 164.58 385.16 163.45 386.21 162.33 387.25 161.23 388.3 160.14 389.34 159.05 390.46 157.9 391.59 156.75 392.71 155.62 393.84 154.5 394.96 153.39 396.08 152.3 397.21 151.21 398.33 150.14 399.46 149.07 400.58 148.02 401.71 146.98 402.83 145.94 403.95 144.92 405.08 143.91 406.2 142.91 407.41 141.85 408.61 140.8 409.82 139.76 411.02 138.74 412.23 137.72 413.43 136.72 414.63 135.72 415.84 134.74 417.04 133.77 418.25 132.81 419.45 131.86 420.66 130.92 421.86 129.98 423.07 129.06 424.27 128.15 425.47 127.25 426.76 126.3 428.04 125.36 429.33 124.43 430.61 123.51 431.9 122.61 433.18 121.71 434.47 120.82 435.75 119.94 437.04 119.08 438.32 118.22 439.61 117.37 440.89 116.53 442.18 115.71 443.46 114.89 444.75 114.08 446.03 113.28 447.32 112.48 448.6 111.7 449.97 110.88 451.33 110.07 452.7 109.27 454.06 108.47 455.43 107.69 456.79 106.92 458.16 106.15 459.52 105.4 460.89 104.65 462.25 103.91 463.62 103.19 464.98 102.47 466.35 101.75 467.71 101.05 469.08 100.36 470.44 99.67 471.81 98.99 473.17 98.32 474.54 97.66 475.9 97.01 477.27 96.36 478.63 95.72 480 95.09 481.36 94.47 482.81 93.82 484.25 93.17 485.7 92.54 487.15 91.91 488.59 91.29 490.04 90.68 491.48 90.07 492.93 89.48 494.37 88.89 495.82 88.3 497.26 87.73 498.71 87.16 500.15 86.6 501.6 86.05 503.04 85.5 504.49 84.96 505.94 84.43 507.38 83.9 508.83 83.39 510.27 82.87 511.72 82.37 513.16 81.87 514.61 81.37 516.05 80.88 517.5 80.4 518.94 79.93 520.39 79.46 521.83 79 523.28 78.54 524.73 78.09 526.17 77.64 527.62 77.2 529.06 76.76 530.51 76.33 531.95 75.91 533.4 75.49 534.84 75.08 536.29 74.67 537.73 74.27 539.26 73.85 540.79 73.43 542.31 73.02 543.84 72.62 545.36 72.22 546.89 71.83 548.41 71.44 549.94 71.06 551.47 70.68 552.99 70.31 554.52 69.94 556.04 69.58 557.57 69.22 559.09 68.87 560.62 68.52" stroke="#0f0" stroke-dasharray="30 18" stroke-dashoffset="5"/><path d="M560.62 68.52 562.15 68.18 563.67 67.84 565.2 67.51 566.72 67.18 568.25 66.85 569.77 66.53 571.3 66.22 572.83 65.91 574.35 65.6 575.88 65.29 577.4 64.99 578.93 64.7 580.45 64.41 581.98 64.12 583.51 63.84 585.03 63.56 586.56 63.28 588.08 63.01 589.61 62.74 591.13 62.48 592.66 62.22 594.19 61.96 595.71 61.71 597.24 61.46 598.76 61.21 600.29 60.97 601.81 60.73 603.34 60.49 604.86 60.25 606.39 60.02 607.92 59.8 609.44 59.57 610.97 59.35 612.49 59.14 614.02 58.92 615.54 58.71 617.07 58.5 618.6 58.3 620.12 58.09 621.65 57.89 623.17 57.7 624.7 57.5 626.22 57.31 627.75 57.12 629.28 56.94 630.8 56.75 632.33 56.57 633.85 56.39 635.38 56.22 636.9 56.04 638.43 55.87 639.96 55.71 641.48 55.54 643.01 55.38 644.53 55.21 646.06 55.06 647.58 54.9 649.11 54.75 650.64 54.59 652.16 54.44 653.69 54.3 655.21 54.15 656.74 54.01 658.26 53.87 659.79 53.73 661.32 53.59 662.84 53.46 664.37 53.32 665.89 53.19 667.42 53.06 668.94 52.94 670.47 52.81 672 52.69 673.52 52.57 675.05 52.45 676.57 52.33 678.1 52.21 679.62 52.1 681.15 51.99 682.68 51.88 684.2 51.77 685.73 51.66 687.25 51.55 688.78 51.45 690.3 51.35 691.83 51.25 693.36 51.15 694.88 51.05 696.41 50.95 697.93 50.86 699.46 50.77 700.98 50.67 702.51 50.58 704.04 50.49 705.56 50.41 707.09 50.32 708.61 50.24 710.14 50.15 711.66 50.07 713.19 49.99 714.72 49.91 716.24 49.83 717.77 49.76 719.29 49.68 720.82 49.61 729.33 49.21 737.36 48.87 745.39 48.56 753.42 48.28 761.45 48.02 769.48 47.78 777.51 47.57 785.54 47.37 793.57 47.19 801.6 47.03 809.63 46.89 817.66 46.76 825.69 46.64 833.72 46.53 841.75 46.44 849.78 46.35 857.81 46.27 865.84 46.2 873.87 46.14 881.9 46.09 889.93 46.03 897.96 45.99 905.99 45.95 914.02 45.91 922.05 45.87 930.08 45.84 938.11 45.82 946.14 45.79 954.17 45.77 962.2 45.75 970.23 45.73 978.26 45.72 986.29 45.71 994.32 45.69 1002.35 45.68 1010.38 45.67 1018.41 45.66 1026.44 45.65 1034.47 45.64 1042.5 45.64 1050.53 45.63 1058.56 45.62 1066.59 45.62 1074.62 45.61 1082.65 45.61 1090.68 45.6 1098.71 45.6 1106.74 45.59 1114.77 45.59 1122.8 45.58 1130.83 45.58 1138.86 45.57 1146.89 45.57 1154.92 45.56 1162.95 45.56 1170.98 45.56 1179.01 45.55 1187.04 45.55 1195.07 45.54 1203.1 45.54 1211.13 45.53 1219.16 45.53 1227.19 45.53 1235.22 45.52 1243.25 45.52 1251.28 45.51 1259.31 45.51 1267.34 45.51 1275.37 45.5 1283.4 45.5 1291.43 45.49 1299.46 45.49 1307.49 45.49 1315.52 45.48 1323.55 45.48 1331.58 45.47 1339.61 45.47 1347.64 45.47 1355.67 45.46 1363.7 45.46 1371.73 45.45 1379.76 45.45 1387.79 45.44 1395.82 45.44 1403.85 45.44 1411.88 45.43 1419.91 45.43 1427.94 45.42 1435.97 45.42 1444 45.42 1452.03 45.41 1460.06 45.41 1468.09 45.4 1476.12 45.4 1484.15 45.4 1492.18 45.39 1500.21 45.39 1508.24 45.38 1516.27 45.38 1524.3 45.38 1532.33 45.37 1540.36 45.37 1548.39 45.36 1556.42 45.36 1564.45 45.36 1572.48 45.35 1580.51 45.35 1588.54 45.34 1596.57 45.34 1604.6 45.34 1612.63 45.33 1620.66 45.33 1628.69 45.32 1636.72 45.32 1644.75 45.31 1652.78 45.31 1660.81 45.31 1668.84 45.3 1676.87 45.3 1684.9 45.29 1692.93 45.29 1700.96 45.29 1708.99 45.28 1717.02 45.28 1725.05 45.27 1733.08 45.27 1741.11 45.27 1749.14 45.26 1757.17 45.26 1765.2 45.25 1773.23 45.25 1781.26 45.25 1789.29 45.24 1797.32 45.24 1805.35 45.23 1813.38 45.23 1821.41 45.23 1829.44 45.22 1837.47 45.22 1845.5 45.21" stroke="#0f0" stroke-dasharray="30 18" stroke-dashoffset="18.05"/></g><rect x="632.7" y="104" width="533.5" height="250.2" fill="#fff"/><path d="M632.7 187.4H1166.2M632.7 270.8H1166.2M899.4 104V354.2" stroke="#dfdfdf" stroke-width="4.7"/><clipPath id="c2"><rect x="632.7" y="104" width="533.5" height="250.2"/></clipPath><g clip-path="url(#c2)" fill="none" stroke-width="4.7"><path d="M632.7 124.3L899.4 118.8L1166.2 114.2" stroke="#f00"/><path d="M632.7 209L1166.2 169.3" stroke="#000" stroke-dasharray="30 18"/><path d="M632.7 278.5L1166.2 230.4" stroke="#00f" stroke-dasharray="23.5 9.5 5.5 9.5"/><path d="M632.7 338L1166.2 285.2" stroke="#0f0" stroke-dasharray="30 18"/></g><path d="M632.7 104H1166.2V354.2H632.7Z" fill="none" stroke="#000" stroke-width="4.7" stroke-linejoin="miter"/><path d="M632.7 354.2V345.7M632.7 104V112.5M899.4 354.2V345.7M899.4 104V112.5M1166.2 354.2V345.7M1166.2 104V112.5M632.7 104H641.2M1166.2 104H1157.7M632.7 187.4H641.2M1166.2 187.4H1157.7M632.7 270.8H641.2M1166.2 270.8H1157.7M632.7 354.2H641.2M1166.2 354.2H1157.7" stroke="#000" stroke-width="4.7"/><text x="578.6" y="119" font-size="63" fill="#262626">0</text><text x="500.93" y="202" font-size="63" fill="#262626">0.02</text><rect x="465.4" y="179.2" width="33.1" height="2.4" fill="#262626"/><text x="498.43" y="285.2" font-size="63" fill="#262626">0.04</text><rect x="465.4" y="262.4" width="33.1" height="2.4" fill="#262626"/><text x="499.33" y="368.5" font-size="63" fill="#262626">0.06</text><rect x="465.4" y="345.7" width="33.1" height="2.4" fill="#262626"/><text x="592.52" y="421" font-size="63" fill="#262626">0.9</text><text x="860.76" y="421" font-size="63" fill="#262626">1.0</text><text x="1125.95" y="421" font-size="63" fill="#262626">1.1</text><rect x="1396" y="62.7" width="411" height="389.8" fill="#fff" stroke="#000" stroke-width="4.7"/><g fill="none" stroke-width="4.7"><path d="M1410 115.4H1560" stroke="#f00"/><path d="M1410.5 210.3H1560.2" stroke="#000" stroke-dasharray="30 18"/><path d="M1410.5 304.8H1560.2" stroke="#00f" stroke-dasharray="23.5 9.5 5.5 9.5"/><path d="M1410.5 398.9H1560.2" stroke="#0f0" stroke-dasharray="30 18"/></g><text x="1579.87" y="132.6" font-size="62.5" fill="#000">Tc = 0.5</text><text x="1579.87" y="225.9" font-size="62.5" fill="#000">Tc = 1</text><text x="1579.87" y="320.4" font-size="62.5" fill="#000">Tc = 1.5</text><text x="1579.87" y="414.7" font-size="62.5" fill="#000">Tc = 2</text><path d="M239.5 736.8H1845.5V1207.5H239.5Z" fill="none" stroke="#000" stroke-width="4.7" stroke-linejoin="miter"/><path d="M239.5 1207.5V1189.2M239.5 736.8V755.1M560.7 1207.5V1189.2M560.7 736.8V755.1M881.9 1207.5V1189.2M881.9 736.8V755.1M1203.1 1207.5V1189.2M1203.1 736.8V755.1M1524.3 1207.5V1189.2M1524.3 736.8V755.1M1845.5 1207.5V1189.2M1845.5 736.8V755.1M239.5 745.6H257.8M1845.5 745.6H1827.2M239.5 966H257.8M1845.5 966H1827.2M239.5 1186.7H257.8M1845.5 1186.7H1827.2" stroke="#000" stroke-width="4.7"/><text x="223.75" y="1274.3" font-size="63" fill="#262626">0</text><text x="545.3" y="1274.3" font-size="63" fill="#262626">2</text><text x="866.03" y="1274.3" font-size="63" fill="#262626">4</text><text x="1186.93" y="1274.3" font-size="63" fill="#262626">6</text><text x="1508.55" y="1274.3" font-size="63" fill="#262626">8</text><text x="1815.93" y="1274.3" font-size="63" fill="#262626">10</text><text x="184.9" y="765" font-size="63" fill="#262626">0</text><text x="135.21" y="986.5" font-size="63" fill="#262626">0.5</text><rect x="103.8" y="963.7" width="32.6" height="2.4" fill="#262626"/><text x="137.95" y="1206.3" font-size="63" fill="#262626">1.0</text><rect x="103.8" y="1183.5" width="32.8" height="2.4" fill="#262626"/><text x="936.87" y="1341.2" font-size="62.5" fill="#000">Time (s)</text><g transform="translate(65 992) rotate(-90)"><text x="0" y="0" font-size="62.5" fill="#000"><tspan font-style="italic">z</tspan><tspan font-size="37" dy="12">2</tspan></text></g><clipPath id="c3"><rect x="239.5" y="733.8" width="1609" height="473.7"/></clipPath><g clip-path="url(#c3)" fill="none" stroke-width="5.2" stroke-linejoin="round"><path d="M243.8 893 243.6 1000 243.4 1210 246.6 1210 248.2 1060 249.8 960 252 915 253.2 890 255.6 858.3 258.7 850 264.8 854.1 267.9 841.8 270 829.4 273.3 823.2 279.2 813 283.6 801.2 286.5 799.7 292.4 799 296.1 791.6 299 785 302.7 779.9 305.6 778.4 309.3 781.3 314.5 772.5 318.9 765.9 326.2 766.6 330.6 761.5 338 755.5 345 753.5" stroke="#f00"/><path d="M340 749.08 342 749.7 344 749.27 346 747.96 348 747.75 350 747.67 352 748.36 354 747.48 356 748.53 358 748.25 360 749.04 362 748.6 364 746.73 366 746.96 368 746.49 370 747.43 372 747.05 372 755.45 370 756.19 368 756.7 366 757.26 364 755.58 362 756 360 755.41 358 756.25 356 757.57 354 755.84 352 757.28 350 755.52 348 756.34 346 756.52 344 756.18 342 755.47 340 755.66Z" fill="#f00" stroke="none"/><path d="M370 741.05 372 742.62 374 741.61 376 741.92 378 742.75 380 741.26 382 741.94 384 742.42 386 743.02 388 741.5 390 740.76 392 740.41 394 742.24 396 742.47 398 741.95 400 741.6 402 742.22 404 741.21 406 740.09 408 741.56 410 741.96 412 740.77 414 739.77 416 740.09 418 739.76 420 739.89 422 740.51 424 739.65 426 740.82 428 741.46 430 740 432 740.16 434 741.66 436 739.58 438 739.67 440 740.54 442 738.97 444 739.86 446 741.33 448 740.13 450 740.5 452 741.02 454 740.91 456 739.6 458 738.79 460 738.63 462 738.96 464 739.25 466 738.31 468 738.52 470 738.27 472 739.74 474 738.75 476 738.98 478 740.19 480 739.14 480 758.46 478 759.78 476 757.52 474 758.1 472 757.59 470 759.47 468 758.15 466 757.59 464 757.34 462 757.62 460 757.38 458 758.85 456 758.24 454 759.27 452 759.23 450 757.34 448 758.81 446 759 444 758.67 442 758.29 440 757.88 438 758.46 436 757.8 434 757.59 432 759.5 430 758.28 428 759.45 426 759.5 424 758.37 422 759.47 420 757.84 418 759.2 416 757.5 414 758.4 412 758.94 410 757.94 408 759.78 406 759.02 404 758.93 402 759.66 400 758.39 398 758.75 396 758.02 394 758.69 392 758.94 390 758.47 388 759.67 386 758.51 384 759.45 382 761.48 380 761.19 378 762.02 376 761.48 374 762.72 372 762.81 370 762.74Z" fill="#f00" stroke="none"/><path d="M478 738.51 480 739.1 482 740.24 484 738.28 486 739.47 488 739.48 490 739.42 492 740.2 494 738.73 496 738.48 498 739.34 500 738.83 502 739.96 504 740.03 506 739.93 508 738.48 510 738.77 512 737.96 514 738.49 516 740.14 518 740.07 520 740.09 522 738.3 524 738.22 526 739.22 528 739.72 530 739.24 532 737.86 534 739.81 536 739.4 538 738.01 540 738.35 542 739.86 544 738.47 546 739.22 548 737.76 550 739.61 552 737.76 554 739.74 556 738.2 558 737.65 560 739.65 562 738.56 564 738.31 566 739.23 568 737.82 570 737.77 572 737.79 574 737.46 576 737.97 578 738.5 580 738.09 582 738.26 584 738.28 586 738.06 588 736.99 590 737.37 592 738.67 594 737.69 596 738.22 598 737.11 600 737.43 602 738.67 604 738.14 606 738.95 608 738.21 610 737.95 612 737.78 614 737.82 616 738.32 618 738.88 620 737.94 622 738.59 624 736.84 626 736.7 628 736.68 630 738.36 632 736.82 634 738.01 636 738.52 638 736.91 640 737.31 642 738.71 644 736.7 646 737.52 648 736.73 650 737.97 652 737.54 654 736.23 656 737.66 658 736.29 660 738.01 662 736.34 664 736.16 666 736.69 668 737.03 670 737.96 672 736.33 674 737.32 676 736.14 678 737.55 680 736.05 682 737.37 684 736.03 686 735.96 688 736.87 690 737.08 692 736.37 694 736.97 696 735.95 698 735.78 700 736.38 700 758.03 698 757.78 696 757.69 694 757.87 692 757.61 690 759.52 688 758.11 686 759.37 684 759.35 682 759.22 680 759.55 678 758.32 676 757.44 674 758.98 672 759.51 670 757.92 668 759.49 666 757.61 664 759.17 662 757.94 660 759.63 658 759.66 656 758.53 654 758.1 652 758.36 650 757.35 648 758.06 646 758.11 644 758.34 642 759.3 640 758.47 638 759.59 636 759.62 634 757.64 632 759.02 630 759.45 628 758.91 626 757.88 624 758.36 622 757.63 620 759.56 618 757.92 616 759.4 614 759.56 612 758.58 610 758.96 608 758.51 606 758.36 604 759.12 602 758.52 600 757.96 598 758.64 596 759.18 594 758.54 592 758.64 590 758.44 588 759.22 586 757.74 584 757.34 582 758.58 580 759.5 578 759.47 576 758.4 574 759.48 572 758.31 570 758.71 568 758 566 757.81 564 759.39 562 759.54 560 758.86 558 757.33 556 758.62 554 758.88 552 759.28 550 759.24 548 757.66 546 757.71 544 759.57 542 758.25 540 759.22 538 759.19 536 758.45 534 759.18 532 758.89 530 759.22 528 758.45 526 759.46 524 757.79 522 757.84 520 758.18 518 759.67 516 758.37 514 758.96 512 757.97 510 757.37 508 758.54 506 759.08 504 759.23 502 759.66 500 757.84 498 759.17 496 759.15 494 758.18 492 758.97 490 759.65 488 757.36 486 757.65 484 759.58 482 757.69 480 757.94 478 757.55Z" fill="#f00" stroke="none"/><path d="M698 737.72 700.5 737.2 703 736.89 705.5 736.69 708 737.65 710.5 736.56 713 738.04 715.5 737.81 718 737.15 720.5 736.95 723 737.53 725.5 736.84 728 737.56 730.5 736.95 733 736.25 735.5 736.27 738 736.64 740.5 736.29 743 737.86 745.5 736.68 748 736.7 750.5 736.42 753 736.63 755.5 738.04 758 736.58 760.5 736.71 763 736.09 765.5 737.03 768 736.48 770.5 736.08 773 736.24 775.5 736.14 778 736.66 780.5 737.22 783 737.55 785.5 737.47 788 736.82 790.5 738 793 737.48 795.5 736.11 798 737.8 800.5 737.48 803 736.29 805.5 737.02 808 737.61 810.5 737.17 813 737.36 815.5 736.45 818 736.25 820.5 736.19 823 737.09 825.5 737.22 828 736.94 830.5 737.56 833 736.96 835.5 737.27 838 737.42 840.5 736.09 843 737.4 845.5 737.41 848 736.92 850.5 736.88 853 737.45 855.5 737.2 858 736.21 860.5 737.39 863 737.04 865.5 736.02 868 737.24 870.5 737.24 873 736.92 875.5 736.81 878 737.66 880.5 737.83 883 735.9 885.5 737.5 888 736.76 890.5 736.27 893 736.27 895.5 736.13 898 737.75 900.5 737.48 903 737.6 905.5 736.29 908 736.79 910.5 735.82 913 736.71 915.5 736.09 918 736.44 920.5 735.8 923 737.47 925.5 737.64 928 737.59 930.5 736.53 933 737.77 935.5 736.49 938 736.32 940.5 735.97 943 736.33 945.5 736.25 948 736.77 950.5 736.49 953 737.51 955.5 737 958 737.61 960.5 737.17 963 737.19 965.5 737.22 968 736.29 970.5 737.56 973 736.65 975.5 736.3 978 737.65 980.5 737 983 736.8 985.5 736.02 988 736.09 990.5 736.67 993 737.48 995.5 736.56 998 736.04 1000.5 736.34 1003 736.13 1005.5 736.79 1008 737.14 1010.5 736.47 1013 736.39 1015.5 735.75 1018 737.56 1020.5 736.63 1023 737.34 1025.5 736.15 1028 736.41 1030.5 737.51 1033 737.34 1035.5 735.66 1038 737.38 1040.5 736.76 1043 736.36 1045.5 737.23 1048 737.51 1050.5 735.78 1053 736.61 1055.5 737.44 1058 736.85 1060.5 736.46 1063 735.62 1065.5 736 1068 736.83 1070.5 735.79 1073 736.8 1075.5 735.74 1078 736.56 1080.5 736.29 1083 736.71 1085.5 736.11 1088 737.42 1090.5 737.26 1093 735.96 1095.5 737.41 1098 736.09 1100.5 736.47 1103 736.31 1105.5 736.8 1108 735.92 1110.5 736.13 1113 736.82 1115.5 737.04 1118 736.45 1120.5 737.38 1123 737.08 1125.5 735.87 1128 736.02 1130.5 736.41 1133 735.86 1135.5 736.74 1138 735.7 1140.5 735.83 1143 735.68 1145.5 735.51 1148 737.19 1150.5 736.85 1153 737.24 1155.5 735.75 1158 736.86 1160.5 736.7 1163 736.11 1165.5 735.7 1168 735.91 1170.5 737.26 1173 737.27 1175.5 736.05 1178 736.98 1180.5 735.43 1183 736.07 1185.5 735.71 1188 737.11 1190.5 736.14 1193 736.84 1195.5 735.37 1198 737.14 1200.5 736.79 1203 735.97 1205.5 737.2 1208 735.81 1210.5 735.91 1213 735.28 1215.5 737.1 1218 737.15 1220.5 735.73 1223 737.17 1225.5 736.02 1228 736.11 1230.5 737.1 1233 736.84 1235.5 736.88 1238 736.44 1240.5 735.86 1243 736.78 1245.5 735.61 1248 735.7 1250.5 735.27 1253 735.85 1255.5 736.96 1258 735.72 1260.5 735.38 1263 736.6 1265.5 735.65 1268 736.41 1270.5 736.67 1273 736.49 1275.5 736.84 1278 736.29 1280.5 736.63 1283 735.64 1285.5 735.45 1288 736.29 1290.5 735.93 1293 736.14 1295.5 736.74 1298 737.1 1300.5 736.07 1303 736.79 1305.5 735.19 1308 735.34 1310.5 737.04 1313 736.95 1315.5 736.82 1318 735.6 1320.5 736.97 1323 736.27 1325.5 735.51 1328 735.35 1330.5 735.57 1333 736.36 1335.5 735.08 1338 736.4 1340.5 735.67 1343 736.63 1345.5 735.16 1348 735.82 1350.5 736.3 1353 735.35 1355.5 735.84 1358 735.63 1360.5 735.63 1363 735.72 1365.5 736.73 1368 735.72 1370.5 736.45 1373 735 1375.5 735.83 1378 735.79 1380.5 735.89 1383 735 1385.5 736.24 1388 735.14 1390.5 735.7 1393 735.24 1395.5 735.99 1398 735.16 1400.5 736.55 1403 735.33 1405.5 736.81 1408 735.89 1410.5 736.77 1413 736.72 1415.5 736.56 1418 736.48 1420.5 735.71 1423 736.55 1425.5 735.33 1428 735.92 1430.5 735.13 1433 736.33 1435.5 734.95 1438 736.38 1440.5 736.54 1443 736.06 1445.5 736.11 1448 735.69 1450.5 735.7 1453 735.73 1455.5 734.88 1458 735.81 1460.5 736.35 1463 735.74 1465.5 735.76 1468 735.07 1470.5 734.99 1473 735.83 1475.5 736.07 1478 736.26 1480.5 735.81 1483 735.79 1485.5 736.68 1488 736.49 1490.5 736.24 1493 735.16 1495.5 735.75 1498 736.59 1500.5 736.33 1503 734.88 1505.5 736.26 1508 736.54 1510.5 736.37 1513 735.74 1515.5 735.15 1518 735.74 1520.5 734.79 1523 735.04 1525.5 736.07 1528 735.04 1530.5 734.93 1533 735.97 1535.5 736.44 1538 735.85 1540.5 734.89 1543 735.94 1545.5 736.27 1548 736.65 1550.5 735.39 1553 735.55 1555.5 736.14 1558 736.29 1560.5 735.93 1563 735.81 1565.5 735.26 1568 734.7 1570.5 735.86 1573 735.65 1575.5 734.88 1578 735.92 1580.5 734.62 1583 734.82 1585.5 735.05 1588 735.78 1590.5 735.84 1593 734.86 1595.5 735.07 1598 734.77 1600.5 736.32 1603 735.37 1605.5 734.59 1608 735.69 1610.5 735.85 1613 736.43 1615.5 735.05 1618 734.63 1620.5 735.35 1623 734.65 1625.5 734.56 1628 736.41 1630.5 734.92 1633 735.53 1635.5 736.14 1638 735.13 1640.5 734.6 1643 736.06 1645.5 734.51 1648 735.98 1650.5 735.97 1653 734.93 1655.5 734.94 1658 735.14 1660.5 735.86 1663 735.89 1665.5 735.57 1668 736.03 1670.5 734.98 1673 736.38 1675.5 736.2 1678 734.96 1680.5 735.92 1683 735.92 1685.5 736.18 1688 734.9 1690.5 735.67 1693 735.74 1695.5 735.34 1698 735.8 1700.5 735.27 1703 735.53 1705.5 734.81 1708 734.54 1710.5 734.67 1713 734.59 1715.5 735.06 1718 734.42 1720.5 735.74 1723 735.75 1725.5 734.48 1728 735.07 1730.5 735.98 1733 734.47 1735.5 736.16 1738 734.54 1740.5 734.55 1743 736.01 1745.5 735.58 1748 735.57 1750.5 734.51 1753 735.82 1755.5 734.93 1758 734.33 1760.5 734.85 1763 735.02 1765.5 736.21 1768 735.98 1770.5 734.33 1773 735.14 1775.5 734.95 1778 735.33 1780.5 735.98 1783 735.89 1785.5 734.25 1788 735.76 1790.5 734.24 1793 735.21 1795.5 734.59 1798 734.91 1800.5 734.74 1803 734.78 1805.5 735.61 1808 734.42 1810.5 734.36 1813 735.59 1815.5 735.44 1818 734.99 1820.5 735.96 1823 735.95 1825.5 734.58 1828 735.97 1830.5 734.92 1833 734.62 1835.5 735.22 1838 735.65 1840.5 734.84 1843 734.45 1845.5 735.46 1845.5 759.68 1843 759.89 1840.5 758.85 1838 759.49 1835.5 759.71 1833 759.12 1830.5 759.97 1828 759.2 1825.5 758.73 1823 758.25 1820.5 758.37 1818 758.99 1815.5 758.91 1813 759.77 1810.5 759.78 1808 759.47 1805.5 759.2 1803 758.63 1800.5 760.09 1798 759.86 1795.5 759.19 1793 759.79 1790.5 759.18 1788 760.16 1785.5 758.6 1783 758.54 1780.5 758.38 1778 758.63 1775.5 759.61 1773 759.75 1770.5 759.03 1768 759.44 1765.5 759.21 1763 758.84 1760.5 759.63 1758 758.71 1755.5 759.05 1753 758.61 1750.5 758.4 1748 758.77 1745.5 759.85 1743 759.82 1740.5 758.27 1738 758.61 1735.5 760.09 1733 759.94 1730.5 759.98 1728 759.84 1725.5 759.38 1723 759.67 1720.5 759.47 1718 758.28 1715.5 758.48 1713 760.06 1710.5 758.25 1708 760.02 1705.5 759.45 1703 758.82 1700.5 759.65 1698 759.92 1695.5 759.88 1693 760.16 1690.5 759.59 1688 760.02 1685.5 758.86 1683 758.85 1680.5 760.09 1678 758.67 1675.5 758.23 1673 758.63 1670.5 759.48 1668 759.25 1665.5 759.07 1663 758.73 1660.5 759.89 1658 759.7 1655.5 758.28 1653 758.41 1650.5 759.1 1648 759.13 1645.5 759.89 1643 759.63 1640.5 759.98 1638 758.8 1635.5 758.55 1633 759.48 1630.5 759.42 1628 758.48 1625.5 759.3 1623 759.76 1620.5 758.68 1618 759.26 1615.5 760.01 1613 759.67 1610.5 759.09 1608 758.9 1605.5 759.49 1603 758.73 1600.5 759.76 1598 759.48 1595.5 758.5 1593 760.07 1590.5 759.15 1588 758.61 1585.5 759.37 1583 758.91 1580.5 758.91 1578 758.24 1575.5 758.65 1573 759.99 1570.5 759.06 1568 758.5 1565.5 758.2 1563 759.53 1560.5 760.17 1558 758.71 1555.5 758.3 1553 758.55 1550.5 759.73 1548 759.35 1545.5 758.73 1543 758.99 1540.5 760.19 1538 759.97 1535.5 759.31 1533 758.92 1530.5 759.26 1528 759.77 1525.5 759.99 1523 760.07 1520.5 758.56 1518 758.84 1515.5 758.73 1513 760.04 1510.5 758.49 1508 758.75 1505.5 758.52 1503 758.9 1500.5 760.06 1498 758.53 1495.5 760.11 1493 760.16 1490.5 759.83 1488 760.19 1485.5 758.47 1483 758.96 1480.5 758.31 1478 759.76 1475.5 758.36 1473 758.28 1470.5 759.08 1468 759.06 1465.5 758.41 1463 758.56 1460.5 759.76 1458 758.67 1455.5 759.44 1453 759.08 1450.5 759.52 1448 759.37 1445.5 758.81 1443 759.3 1440.5 758.44 1438 758.28 1435.5 759.32 1433 759.99 1430.5 758.69 1428 758.97 1425.5 759 1423 758.57 1420.5 759.89 1418 758.64 1415.5 758.52 1413 759.44 1410.5 758.98 1408 758.31 1405.5 760.15 1403 758.45 1400.5 760.13 1398 759.18 1395.5 760.05 1393 758.77 1390.5 759.21 1388 759.44 1385.5 760.02 1383 759.3 1380.5 758.53 1378 759.97 1375.5 759.84 1373 760 1370.5 758.61 1368 758.59 1365.5 760.19 1363 759.03 1360.5 759.33 1358 760.11 1355.5 758.77 1353 759.59 1350.5 758.38 1348 759.3 1345.5 758.4 1343 759.3 1340.5 758.61 1338 758.57 1335.5 758.85 1333 758.61 1330.5 759.4 1328 758.61 1325.5 758.94 1323 759.44 1320.5 758.41 1318 759.76 1315.5 759.1 1313 758.94 1310.5 759.37 1308 758.58 1305.5 758.79 1303 760.03 1300.5 759.84 1298 758.4 1295.5 759.51 1293 758.66 1290.5 760.18 1288 758.85 1285.5 759.97 1283 758.69 1280.5 758.6 1278 758.95 1275.5 758.79 1273 758.44 1270.5 759.89 1268 759.55 1265.5 759.03 1263 759.09 1260.5 759.2 1258 758.37 1255.5 760.18 1253 760.16 1250.5 759.31 1248 758.33 1245.5 759.71 1243 758.36 1240.5 758.92 1238 758.86 1235.5 759.75 1233 759.68 1230.5 758.57 1228 759.19 1225.5 758.7 1223 760.11 1220.5 759.15 1218 758.25 1215.5 759.47 1213 759.71 1210.5 758.75 1208 759.63 1205.5 759.43 1203 758.74 1200.5 760 1198 758.71 1195.5 758.33 1193 758.28 1190.5 759.82 1188 758.26 1185.5 758.93 1183 760.04 1180.5 759.15 1178 759.06 1175.5 759.84 1173 758.61 1170.5 758.45 1168 758.9 1165.5 758.21 1163 758.86 1160.5 758.96 1158 758.26 1155.5 760.07 1153 758.86 1150.5 760.2 1148 759.97 1145.5 758.99 1143 758.3 1140.5 760.15 1138 758.99 1135.5 760.1 1133 759.03 1130.5 758.57 1128 760.1 1125.5 759.72 1123 758.66 1120.5 758.82 1118 758.61 1115.5 759.68 1113 758.6 1110.5 759.04 1108 758.27 1105.5 760.05 1103 758.71 1100.5 759.55 1098 758.24 1095.5 759.61 1093 758.69 1090.5 759.15 1088 759.49 1085.5 759.12 1083 758.22 1080.5 758.65 1078 759.37 1075.5 758.34 1073 759.6 1070.5 758.7 1068 758.81 1065.5 760.04 1063 759.76 1060.5 759.3 1058 759.73 1055.5 759.64 1053 759.56 1050.5 758.51 1048 758.7 1045.5 759.91 1043 760.05 1040.5 758.2 1038 759.15 1035.5 759.62 1033 758.24 1030.5 759.9 1028 759.09 1025.5 758.7 1023 758.63 1020.5 759.46 1018 758.45 1015.5 758.76 1013 758.88 1010.5 759.25 1008 759.03 1005.5 759.97 1003 758.72 1000.5 758.38 998 758.38 995.5 758.48 993 760.19 990.5 758.64 988 760.01 985.5 758.52 983 758.99 980.5 758.8 978 758.72 975.5 759.68 973 758.89 970.5 758.45 968 758.3 965.5 759.49 963 759.1 960.5 758.3 958 759.3 955.5 760.03 953 759.82 950.5 760.11 948 758.58 945.5 758.73 943 760.07 940.5 759.87 938 758.3 935.5 759.06 933 759.38 930.5 758.99 928 758.78 925.5 759.63 923 758.44 920.5 759.7 918 759.88 915.5 758.89 913 758.8 910.5 759.18 908 758.25 905.5 760 903 759.61 900.5 759.22 898 758.47 895.5 759.25 893 759.36 890.5 760.09 888 758.74 885.5 760.14 883 759.12 880.5 760.07 878 758.6 875.5 758.44 873 759.13 870.5 758.78 868 759.58 865.5 758.74 863 758.22 860.5 758.81 858 758.71 855.5 758.35 853 759.43 850.5 759.57 848 758.97 845.5 760.15 843 758.61 840.5 758.73 838 758.7 835.5 758.33 833 759.27 830.5 759.7 828 758.21 825.5 759.56 823 759.46 820.5 759.87 818 758.92 815.5 758.26 813 759.59 810.5 759.99 808 759.85 805.5 759.87 803 759.25 800.5 759.82 798 759.45 795.5 759.87 793 759.49 790.5 758.5 788 758.85 785.5 759.96 783 759.52 780.5 759.26 778 758.67 775.5 758.24 773 759 770.5 758.73 768 759.21 765.5 759.21 763 758.96 760.5 758.91 758 760.13 755.5 759.29 753 760.12 750.5 759.09 748 759.12 745.5 758.68 743 759.54 740.5 759.88 738 758.53 735.5 759.68 733 758.46 730.5 758.9 728 759.47 725.5 759.86 723 760.16 720.5 759.21 718 759.87 715.5 759.06 713 758.41 710.5 759.15 708 759.3 705.5 758.23 703 758.24 700.5 758.56 698 758.78Z" fill="#f00" stroke="none"/><path d="M243.5 977 244.5 953 245.3 913 246.5 860 249 830.6 254.9 812.2 257.1 802.6 262 805 267.4 807.8 273.3 793.8 283.6 782 292.4 778.4 300.5 768.1 307.9 771 311.5 768.8 320.4 761.5 326.2 764.4 332.1 762.2 338 758.5 350 758.5 362 756 380 755.5 400 753 440 751 500 749.5 600 749.3 1846 749.2" stroke="#000" stroke-dasharray="30 18" stroke-dashoffset="-6"/><path d="M440 743.64 442 745.21 444 743.53 446 745.5 448 743.7 450 745.03 452 743.6 454 743.84 456 744.56 458 744.05 460 745.74 462 743.46 464 743.46 466 745.76 468 745.11 470 743.71 472 743.48 474 744.21 476 744.24 478 745 480 744.84 482 743.57 484 744.25 486 745.56 488 744.69 490 744.3 492 745.08 494 745.21 496 745.42 498 744.87 500 744.01 500 759.33 498 758.88 496 759.47 494 759.52 492 759.99 490 758.29 488 759.65 486 758.82 484 759.63 482 759.27 480 758.9 478 759 476 759.76 474 757.79 472 758.24 470 759.36 468 758.83 466 759.77 464 758.7 462 760.2 460 759.59 458 758.19 456 758.12 454 758.55 452 758.11 450 759.89 448 758.48 446 758.32 444 758.9 442 759.21 440 758.84Z" fill="#000" stroke="none"/><path d="M485 744.2 487 745.56 489 745.26 491 744.85 493 745.24 495 745.35 497 744.37 499 745.56 499 753.78 497 754.31 495 754.86 493 753.82 491 753.91 489 753.5 487 754.43 485 753.84Z" fill="#000" stroke="none"/><path d="M240.1 899.5 243.5 898 245 865.5 246.3 833.5 249 808.5 252.7 795.3 254.9 783.5 260.1 774 267.4 785.7 271.8 782 277.7 773.2 283.6 766.6 289.5 765.9 295.4 759.3 304.2 755.6 315.2 752.6 326.2 753.4 338 751.9 360 751.5 400 751 500 749.8 1846 749.3" stroke="#00f" stroke-dasharray="23.5 9.5 5.5 9.5"/><path d="M560 749.3H1846" stroke="#00f"/><path d="M600 749.3H1846" stroke="#000" stroke-dasharray="5 93"/><path d="M241.1 861.4 244.5 860 246.1 821.8 247.6 793.8 252.7 776.2 256.4 763 259.3 756.3 263 762 267.4 767.4 279.2 761.5 289.5 757.1 298.3 751.2 307.9 749.7 318.9 749.2 338 749.2" stroke="#0f0" stroke-dasharray="30 18" stroke-dashoffset="-8"/><path d="M542 744.47 544 743.3 546 743.62 548 745.65 550 743.46 552 744.61 554 744.53 556 745.36 558 744.27 560 743.75 562 744.22 564 743.52 566 744.12 568 743.91 570 743.23 572 744.29 574 744.12 576 743.78 578 745.64 580 743.77 582 744.22 584 743.54 586 745.3 588 744.42 590 743.79 592 744.12 594 745.33 596 744.42 598 744.63 600 745.37 602 745.41 604 744.18 606 744.31 608 743.21 610 743.93 612 743.98 614 744.31 616 744.91 618 745.61 620 743.35 622 745.56 624 743.57 626 744.85 628 743.23 630 744.91 632 743.46 634 743.81 636 744.1 638 745.55 640 743.64 642 744.78 644 744.94 646 745.25 648 743.71 650 744.58 652 744.34 654 744.64 656 743.81 658 744.48 660 744.41 662 744.48 664 744.6 666 743.22 668 744.42 670 744.93 672 744.17 674 745.7 676 744.86 678 743.27 680 744.97 682 744.06 684 744.53 686 745.53 688 745.07 690 744.08 692 744.15 694 744.57 696 743.75 698 744.3 700 745.35 702 745.35 704 744.51 706 744.52 708 744.9 710 744.06 712 743.98 714 744.85 716 743.3 718 745.5 720 743.33 722 743.22 722 753.69 720 753.98 718 754.62 716 755.08 714 755.24 712 754.72 710 754.02 708 755.26 706 755.73 704 753.91 702 754.25 700 753.96 698 754.64 696 754.33 694 755.2 692 754.43 690 755.44 688 754.83 686 753.29 684 754.46 682 755.75 680 755.62 678 754.79 676 754.85 674 753.4 672 754.29 670 755.39 668 754.66 666 755.39 664 755.44 662 754.5 660 753.58 658 753.35 656 753.56 654 753.89 652 755.49 650 755.13 648 755 646 755.38 644 755.52 642 755.23 640 755.52 638 755.26 636 753.6 634 755.22 632 753.57 630 753.85 628 755.67 626 753.24 624 755.36 622 755.24 620 755.35 618 755.42 616 754.14 614 754.86 612 754.45 610 753.84 608 755.08 606 753.68 604 753.86 602 753.9 600 754.12 598 753.53 596 753.97 594 755.32 592 754.86 590 755.71 588 754.66 586 754.85 584 755.22 582 753.75 580 755.28 578 754.57 576 755.13 574 753.89 572 755.02 570 754.29 568 754.24 566 753.35 564 755.76 562 755.18 560 754.98 558 755.66 556 754.56 554 754.86 552 755.06 550 754.69 548 754.55 546 755.23 544 754.61 542 755.73Z" fill="#0f0" stroke="none"/><path d="M338 749.4H542" stroke="#0f0" stroke-dasharray="13.5 6"/><path d="M722 749.2H950" stroke="#0f0" stroke-dasharray="18 6"/><path d="M950 749.2H1846" stroke="#0f0" stroke-dasharray="22.5 9"/></g></svg></body></html>
